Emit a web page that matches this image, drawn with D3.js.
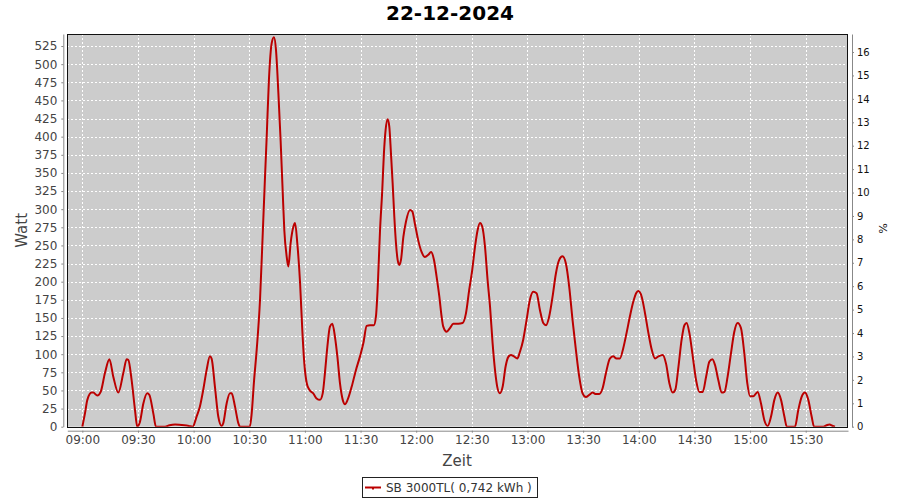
<!DOCTYPE html>
<html><head><meta charset="utf-8">
<script src="https://cdn.jsdelivr.net/npm/d3@7"></script>
<style>
body{margin:0;background:#fff}
svg{display:block}
text{font-family:"DejaVu Sans",sans-serif}
</style>
</head><body>
<svg id="c" width="900" height="500"></svg>
<script>
const title = "22-12-2024";
const seriesName = "SB 3000TL( 0,742 kWh )";
const xAxisTitle = "Zeit";
const leftAxisTitle = "Watt";
const rightAxisTitle = "%";
const startMinute = 540; // 09:00

// minutes after 09:00
const minutesFromStart = [
  0, 1.4, 2.7, 5, 5.9, 8.1, 9.9, 12.2, 14.6, 16.7, 19.4, 22.1, 23.9, 24.8, 26.6, 28.4, 29.6,
  31.1, 32.9, 35, 36.1, 38.3, 39.7, 44.6, 47, 50, 55, 57.5, 59.5, 61.6, 63.4, 65.2, 67, 68.8,
  69.7, 71.5, 73.3, 75.1, 76, 77.8, 79.6, 80.5, 82.3, 84.1, 85, 89.5, 90.3,
  91.3, 92.6, 94, 95.8, 97.2, 98.5, 99.4, 100.6, 102.1, 103.3, 104.4, 105.7, 106.9, 108, 108.9,
  110.2, 111.1, 112.3, 113.8, 114.7, 115.9, 117.4, 118.6, 119.7, 121, 122.4, 124.5, 126.3, 128.1,
  129.6, 130.8, 132.1, 133.5, 134.8, 136.2, 137.5, 138.9, 140.4, 141.6, 143, 145.2, 147.5, 149.7,
  151.5, 153.3, 155.1, 157.2, 158.3, 159.2, 160.5, 161.7, 162.6, 163.5, 164.6, 165.5, 166.4, 167.3,
  168.2, 169.1, 170, 170.9, 171.8, 173.1, 174.5, 176.7, 177.9, 179.3, 181.1, 182.9, 184.7, 186.5,
  188, 189.6, 191, 192.5, 193.7,
  194.6, 196.4, 198.2, 200, 202.7, 205, 206.8, 208.6, 210.2, 211.7, 213.1, 214.4, 215.6, 217.1,
  218.5, 219.8, 221.2, 222.5, 223.7, 225.1, 226.6, 228.2, 229.6, 231.1, 232.7, 234.5, 235.9, 237.7,
  239.5, 241.3, 243.1, 244.9, 246.7, 248.5, 250, 251.7, 253.5, 255.3, 257.1, 258.9, 260.7, 262.5,
  264.3, 266.1, 267.9, 269.7, 271.5, 273.3, 275.1, 276.9, 278.7, 280.5, 282.3, 284.4, 286.2, 288,
  289.8, 291.6, 293.4, 295.2, 297, 298.8,
  299.8, 301.6, 303.4, 305.2, 307, 308.8, 310.6, 312.9, 314.7, 316.5, 318.3, 319.7, 321.4, 323.1,
  324.6, 325.8, 327.3, 329.1, 330.9, 332.7, 334.5, 336.3, 338.1, 339.7, 341.1, 342.9, 344.7, 346.2,
  347.9, 349.7, 351.5, 353.3, 355.1, 356.9, 358.5, 360, 361.8, 364.1, 365.9, 367.7, 369.5, 371.3,
  373.1, 374.9, 376.7, 378.5, 379.8, 384.2, 386, 387.8, 389.6, 391.4, 393.2, 394.5, 399.5, 401.3,
  402.8, 404.6, 405.8
];
const watts = [
  0, 18, 37, 47, 47, 43, 48, 74, 93, 69, 47, 74, 93, 92, 64, 23, 0,
  7, 32, 46, 44, 18, 0, 0, 2, 3, 2, 1, 0, 14, 28, 51, 78, 97,
  94, 55, 14, 1, 5, 32, 46, 46, 28, 5, 0, 0, 0,
  18, 64, 106, 175, 262, 345, 400, 478, 529, 537, 520, 460, 395, 326, 271,
  234, 221, 253, 276, 281, 253, 198, 133, 87, 60, 51, 46, 39, 37,
  46, 74, 110, 138, 142, 124, 97, 60, 37, 31, 37, 55, 78, 97,
  115, 139, 140, 140, 152, 189, 271, 326, 377, 409, 424, 414, 377, 336,
  290, 253, 230, 223, 230, 262, 283, 299, 297, 280, 257, 241, 234, 237,
  241, 230, 207, 179, 152,
  138, 131, 136, 142, 142, 143, 156, 189, 216, 248, 271, 281, 276, 248,
  202, 166, 115, 78, 55, 46, 55, 83, 96, 99, 97, 94, 103, 120,
  147, 175, 186, 184, 161, 143, 140, 152, 179, 211, 230, 235, 225, 193,
  147, 106, 69, 46, 41, 44, 47, 45, 45, 53, 74, 94, 97, 94,
  94, 108, 129, 152, 172, 185,
  187, 179, 156, 129, 106, 94, 97, 99, 87, 60, 47, 51, 83, 120,
  140, 143, 129, 97, 64, 48, 48, 69, 90, 93, 85, 64, 47, 48,
  69, 101, 131, 143, 136, 101, 60, 42, 42, 48, 32, 9, 1, 14,
  37, 47, 37, 14, 0, 0, 23, 41, 47, 37, 14, 0, 0, 2,
  3, 1, 0
];

const xTickLabels = ["09:00","09:30","10:00","10:30","11:00","11:30","12:00","12:30","13:00","13:30","14:00","14:30","15:00","15:30"];
const leftTicks = [0,25,50,75,100,125,150,175,200,225,250,275,300,325,350,375,400,425,450,475,500,525];
const rightTicks = [0,1,2,3,4,5,6,7,8,9,10,11,12,13,14,15,16];

const svg = d3.select("#c");
const P = {l: 67.3, r: 848, t: 34, b: 426.7};

const toMin = s => { const [h, m] = s.split(":").map(Number); return h * 60 + m; };
const xTickValues = xTickLabels.map(toMin);

const x = d3.scaleLinear().domain([531.9, 952.8]).range([P.l, P.r]);
const y = d3.scaleLinear().domain([0, 541.6]).range([P.b, P.t]);
const y2 = d3.scaleLinear().domain([0, 16.77]).range([P.b, P.t]);

svg.append("rect").attr("width", 900).attr("height", 500).attr("fill", "#fff");

// plot background
svg.append("rect").attr("x", P.l).attr("y", P.t).attr("width", P.r - P.l).attr("height", P.b - P.t).attr("fill", "#cccccc");

// gridlines
const grid = svg.append("g").attr("stroke", "#fff").attr("stroke-width", 1).attr("stroke-dasharray", "2,2").attr("shape-rendering", "crispEdges");
grid.selectAll("line.h").data(leftTicks.filter(d => d > 0)).join("line")
  .attr("x1", P.l).attr("x2", P.r).attr("y1", d => Math.round(y(d)) + 0.5).attr("y2", d => Math.round(y(d)) + 0.5);
grid.selectAll("line.v").data(xTickValues).join("line")
  .attr("y1", P.t).attr("y2", P.b).attr("x1", d => Math.round(x(d)) + 0.5).attr("x2", d => Math.round(x(d)) + 0.5);

// clip
svg.append("clipPath").attr("id", "clip").append("rect")
  .attr("x", P.l).attr("y", P.t).attr("width", P.r - P.l).attr("height", P.b - P.t);

const pts = minutesFromStart.map((m, i) => [startMinute + m, watts[i]]);
const line = d3.line().x(d => x(d[0])).y(d => y(d[1])).curve(d3.curveMonotoneX);
svg.append("path").attr("clip-path", "url(#clip)").datum(pts).attr("d", line)
  .attr("fill", "none").attr("stroke", "#bb0000").attr("stroke-width", 2).attr("stroke-linejoin", "round");

// plot outline
svg.append("rect").attr("x", P.l + 0.5).attr("y", P.t + 0.5).attr("width", P.r - P.l - 1).attr("height", P.b - P.t)
  .attr("fill", "none").attr("stroke", "#111").attr("stroke-width", 1).attr("shape-rendering", "crispEdges");

function styleAxis(g, fontSize, family) {
  g.select(".domain").attr("stroke", "#888");
  g.selectAll(".tick line").attr("stroke", "#888");
  g.selectAll(".tick text").attr("fill", "#444").attr("font-size", fontSize).attr("font-family", family);
}

// left axis
const gl = svg.append("g").attr("transform", `translate(${P.l - 4},0)`)
  .call(d3.axisLeft(y).tickValues(leftTicks).tickSize(2).tickSizeOuter(0).tickPadding(4));
styleAxis(gl, 12, "DejaVu Sans");

// right axis
const gr = svg.append("g").attr("transform", `translate(${P.r + 4},0)`)
  .call(d3.axisRight(y2).tickValues(rightTicks).tickFormat(d3.format("d")).tickSize(2).tickSizeOuter(0).tickPadding(3));
styleAxis(gr, 10, "DejaVu Sans Mono");
gr.selectAll(".tick text").attr("fill", "#111");

// bottom axis
const gb = svg.append("g").attr("transform", `translate(0,${P.b + 4})`)
  .call(d3.axisBottom(x).tickValues(xTickValues).tickFormat((d, i) => xTickLabels[i]).tickSize(2).tickSizeOuter(0).tickPadding(3));
styleAxis(gb, 12, "DejaVu Sans");

// titles
svg.append("text").attr("x", 450).attr("y", 20).attr("text-anchor", "middle")
  .attr("font-size", 20).attr("font-weight", "bold").attr("fill", "#000").text(title);
svg.append("text").attr("x", 457).attr("y", 466).attr("text-anchor", "middle")
  .attr("font-size", 15).attr("fill", "#444").text(xAxisTitle);
svg.append("text").attr("transform", `translate(27,${(P.t + P.b) / 2}) rotate(-90)`).attr("text-anchor", "middle")
  .attr("font-size", 15).attr("fill", "#444").text(leftAxisTitle);
svg.append("text").attr("transform", `translate(879,${(P.t + P.b) / 2 - 2}) rotate(90)`).attr("text-anchor", "middle")
  .attr("font-size", 11).attr("font-family", "DejaVu Sans Mono").attr("fill", "#111").text(rightAxisTitle);

// legend
const lg = svg.append("g");
lg.append("rect").attr("x", 362.5).attr("y", 477.5).attr("width", 175).attr("height", 20)
  .attr("fill", "#fff").attr("stroke", "#222").attr("stroke-width", 1);
lg.append("line").attr("x1", 365).attr("x2", 381).attr("y1", 487.5).attr("y2", 487.5)
  .attr("stroke", "#bb0000").attr("stroke-width", 2);
lg.append("rect").attr("x", 372).attr("y", 487).attr("width", 2).attr("height", 2.5).attr("fill", "#bb0000");
lg.append("text").attr("x", 386).attr("y", 492).attr("font-size", 12).attr("fill", "#333").text(seriesName);
</script>
</body></html>
